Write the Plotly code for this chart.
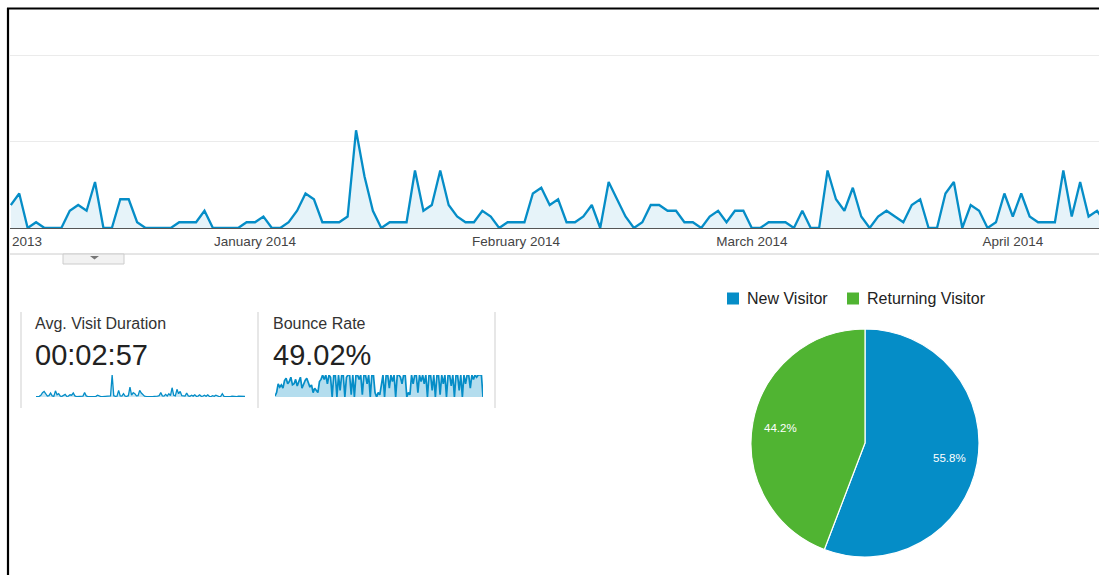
import math
import pandas as pd
import plotly.graph_objects as go

# ---------------- data ----------------
start_date = "2013-12-03"
visits = [4, 6, 0, 1, 0, 0, 0, 3, 4, 3, 8, 0, 0, 5, 5, 1, 0, 0, 0, 0,
          1, 1, 1, 3, 0, 0, 0, 0, 1,
          1, 2, 0, 0, 1, 3, 6, 5, 1, 1, 1, 2, 17, 9, 3, 0, 1, 1, 1, 10, 3,
          4, 10, 4, 2, 1, 1, 3, 2, 0, 1, 1,
          1, 6, 7, 4, 5, 1, 1, 2, 4, 0, 8, 5, 2, 0, 1, 4, 4, 3, 3, 1, 1,
          0, 2, 3, 1, 3, 3,
          0, 0, 1, 1, 1, 0, 3, 0, 0, 10, 5, 3, 7, 2, 0, 2, 3, 2, 1, 4, 5, 0,
          0, 6, 8, 0, 4, 3, 0, 1, 6,
          2, 6, 2, 1, 1, 1, 10, 2, 8, 2, 3, 1]
month_ticks = ["2014-01-01", "2014-02-01", "2014-03-01", "2014-04-01"]
month_labels = ["January 2014", "February 2014", "March 2014", "April 2014"]
partial_label = "2013"

duration_spark = [1, 2, 3, 8, 20, 25, 15, 4, 6, 18, 5, 3, 28, 10, 15, 4, 3, 8, 12, 3,
                  4, 10, 8, 18, 5, 2, 2, 3, 2, 4, 20, 5, 2, 2, 3, 2, 2, 3, 8, 3,
                  2, 2, 3, 2, 2, 3, 5, 100, 6, 3, 4, 30, 5, 4, 15, 4, 3, 6, 45, 8,
                  20, 15, 5, 6, 30, 18, 10, 4, 3, 2, 3, 2, 2, 3, 2, 4, 6, 20, 5, 4,
                  12, 5, 15, 6, 42, 8, 5, 35, 15, 25, 6, 5, 4, 18, 5, 3, 8, 4, 10, 3,
                  4, 10, 3, 4, 8, 3, 10, 3, 2, 6, 3, 8, 3, 2, 3, 15, 3, 2, 3, 2,
                  2, 4, 3, 5, 2, 4, 3, 5, 2, 3]
bounce_spark = [5, 20, 60, 45, 55, 40, 75, 85, 60, 70, 90, 55, 60, 80, 50, 70, 90, 40,
                60, 75, 85, 60, 45, 55, 20, 40, 30, 20, 70, 80, 100, 80, 100, 60, 100,
                90, 0, 100, 100, 0, 100, 30, 100, 100, 0, 90, 100, 100, 10, 100, 0, 100,
                100, 80, 100, 10, 100, 100, 60, 100, 0, 100, 100, 20, 0, 20, 10, 50,
                100, 0, 100, 100, 40, 100, 70, 100, 0, 100, 100, 90, 60, 100, 100, 0,
                20, 10, 100, 60, 100, 100, 20, 100, 70, 100, 60, 100, 0, 100, 100, 30,
                100, 0, 100, 100, 10, 100, 60, 100, 0, 100, 100, 50, 100, 0, 100, 100,
                30, 100, 0, 100, 60, 100, 100, 40, 100, 80, 100, 90, 100, 100, 100, 0]

metric_names = ["Avg. Visit Duration", "Bounce Rate"]
metric_values = ["00:02:57", "49.02%"]

visitor_labels = ["New Visitor", "Returning Visitor"]
visitor_share = [55.8, 44.2]
visitor_colors = ["#058dc7", "#50b432"]

# ---------------- layout helpers ----------------
W, H = 1099, 575
FONT = "Liberation Sans, Arial, sans-serif"


def px(x):
    return x / W


def py(y):
    return (H - y) / H


BLUE = "#058dc7"
dates = pd.date_range(start_date, periods=len(visits), freq="D")
jan1 = pd.Timestamp("2014-01-01")
ppd = 8.42  # pixels per day
x0 = jan1 + pd.Timedelta(days=(10 - 255) / ppd)
x1 = jan1 + pd.Timedelta(days=(W - 255) / ppd)

fig = go.Figure()

# main line chart
fig.add_trace(go.Scatter(
    x=dates, y=visits, mode="lines",
    line=dict(color=BLUE, width=2.3),
    fill="tozeroy", fillcolor="rgba(5,141,199,0.10)",
    hoverinfo="skip", showlegend=False, xaxis="x", yaxis="y"))

# sparklines
fig.add_trace(go.Scatter(
    x=list(range(len(duration_spark))), y=duration_spark, mode="lines",
    line=dict(color=BLUE, width=1.3), fill="tozeroy",
    fillcolor="rgba(5,141,199,0.22)", hoverinfo="skip", showlegend=False,
    xaxis="x2", yaxis="y2"))
fig.add_trace(go.Scatter(
    x=list(range(len(bounce_spark))), y=bounce_spark, mode="lines",
    line=dict(color=BLUE, width=1.7), fill="tozeroy",
    fillcolor="rgba(5,141,199,0.30)", hoverinfo="skip", showlegend=False,
    xaxis="x3", yaxis="y3"))

# pie
pcx, pcy, pr = 865, 443, 114
fig.add_trace(go.Pie(
    labels=visitor_labels, values=visitor_share,
    marker=dict(colors=visitor_colors, line=dict(color="white", width=1.2)),
    sort=False, direction="clockwise", rotation=0,
    textinfo="none", hoverinfo="skip", showlegend=False,
    domain=dict(x=[px(pcx - pr), px(pcx + pr)], y=[py(pcy + pr), py(pcy - pr)])))

annotations = []
shapes = []

# pie labels at 0.75 r along mid angle
total = sum(visitor_share)
cum = 0.0
for v in visitor_share:
    mid = (cum + v / 2) / total * 2 * math.pi
    cum += v
    lx = pcx + 0.75 * pr * math.sin(mid)
    ly = pcy - 0.75 * pr * math.cos(mid)
    annotations.append(dict(
        x=px(lx), y=py(ly), xref="paper", yref="paper", showarrow=False,
        text=f"{v / total * 100:.1f}%", font=dict(family=FONT, size=11.5, color="white"),
        xanchor="center", yanchor="middle"))

# legend
leg_x = [727, 847]
for i, (lab, col) in enumerate(zip(visitor_labels, visitor_colors)):
    sx = leg_x[i]
    shapes.append(dict(type="rect", xref="paper", yref="paper",
                       x0=px(sx), x1=px(sx + 12), y0=py(304.5), y1=py(292.5),
                       fillcolor=col, line=dict(width=0)))
    annotations.append(dict(
        x=px(sx + 18), y=py(298.5), xref="paper", yref="paper", showarrow=False,
        text=lab, font=dict(family=FONT, size=16, color="#222"),
        xanchor="left", yanchor="middle"))

# scorecards
card_x = [33, 271]
for i in range(2):
    annotations.append(dict(
        x=px(card_x[i]), y=py(323), xref="paper", yref="paper", showarrow=False,
        text=metric_names[i], font=dict(family=FONT, size=16, color="#333"),
        xanchor="left", yanchor="middle"))
    annotations.append(dict(
        x=px(card_x[i]), y=py(355), xref="paper", yref="paper", showarrow=False,
        text=metric_values[i], font=dict(family=FONT, size=29, color="#222"),
        xanchor="left", yanchor="middle"))
for vx in [21, 258, 495]:
    shapes.append(dict(type="line", xref="paper", yref="paper",
                       x0=px(vx), x1=px(vx), y0=py(312), y1=py(408),
                       line=dict(color="#cfcfcf", width=1)))

# partial month label at the left edge
annotations.append(dict(
    x=px(10), y=py(241), xref="paper", yref="paper", showarrow=False,
    text=partial_label, font=dict(family=FONT, size=13.5, color="#444"),
    xanchor="left", yanchor="middle"))

# separator line and tab under chart
shapes.append(dict(type="line", xref="paper", yref="paper",
                   x0=px(10), x1=1, y0=py(254), y1=py(254),
                   line=dict(color="#cccccc", width=1)))
shapes.append(dict(type="rect", xref="paper", yref="paper",
                   x0=px(63), x1=px(124), y0=py(264), y1=py(254),
                   fillcolor="#f2f2f2", line=dict(color="#cccccc", width=1)))
shapes.append(dict(type="path", xref="paper", yref="paper",
                   path=f"M {px(90)},{py(256)} L {px(99)},{py(256)} L {px(94.5)},{py(259.5)} Z",
                   fillcolor="#777777", line=dict(width=0)))

# black frame
shapes.append(dict(type="line", xref="paper", yref="paper",
                   x0=px(8), x1=px(8), y0=0, y1=py(8),
                   line=dict(color="black", width=2.2), layer="above"))
shapes.append(dict(type="line", xref="paper", yref="paper",
                   x0=px(7), x1=1, y0=py(8.5), y1=py(8.5),
                   line=dict(color="black", width=2.2), layer="above"))

fig.update_layout(
    width=W, height=H,
    margin=dict(l=0, r=0, t=0, b=0),
    paper_bgcolor="white", plot_bgcolor="white",
    font=dict(family=FONT),
    xaxis=dict(domain=[px(10), 1], type="date", range=[x0, x1],
               tickvals=month_ticks, ticktext=month_labels,
               showgrid=False, zeroline=False, showline=True,
               linecolor="#555", linewidth=1,
               ticks="outside", ticklen=1, tickcolor="rgba(0,0,0,0)",
               tickfont=dict(family=FONT, size=13.5, color="#444"),
               fixedrange=True),
    yaxis=dict(domain=[py(228), 1], range=[0, 228 / 5.75],
               tickvals=[15, 30], showticklabels=False,
               showgrid=True, gridcolor="#ebebeb", gridwidth=1,
               zeroline=False, showline=False, fixedrange=True),
    xaxis2=dict(domain=[px(36), px(245)], range=[0, len(duration_spark) - 1],
                visible=False, fixedrange=True),
    yaxis2=dict(domain=[py(397), py(375)], range=[0, max(duration_spark)],
                visible=False, fixedrange=True, anchor="x2"),
    xaxis3=dict(domain=[px(275), px(483)], range=[0, len(bounce_spark) - 1],
                visible=False, fixedrange=True),
    yaxis3=dict(domain=[py(397), py(375)], range=[0, 100],
                visible=False, fixedrange=True, anchor="x3"),
    annotations=annotations,
    shapes=shapes,
)
fig.update_layout(xaxis2_anchor="y2", xaxis3_anchor="y3")

fig.write_html(
    "out.html",
    config={"displayModeBar": False},
    post_script="document.body.style.margin='0px';document.body.style.overflow='hidden';",
)
